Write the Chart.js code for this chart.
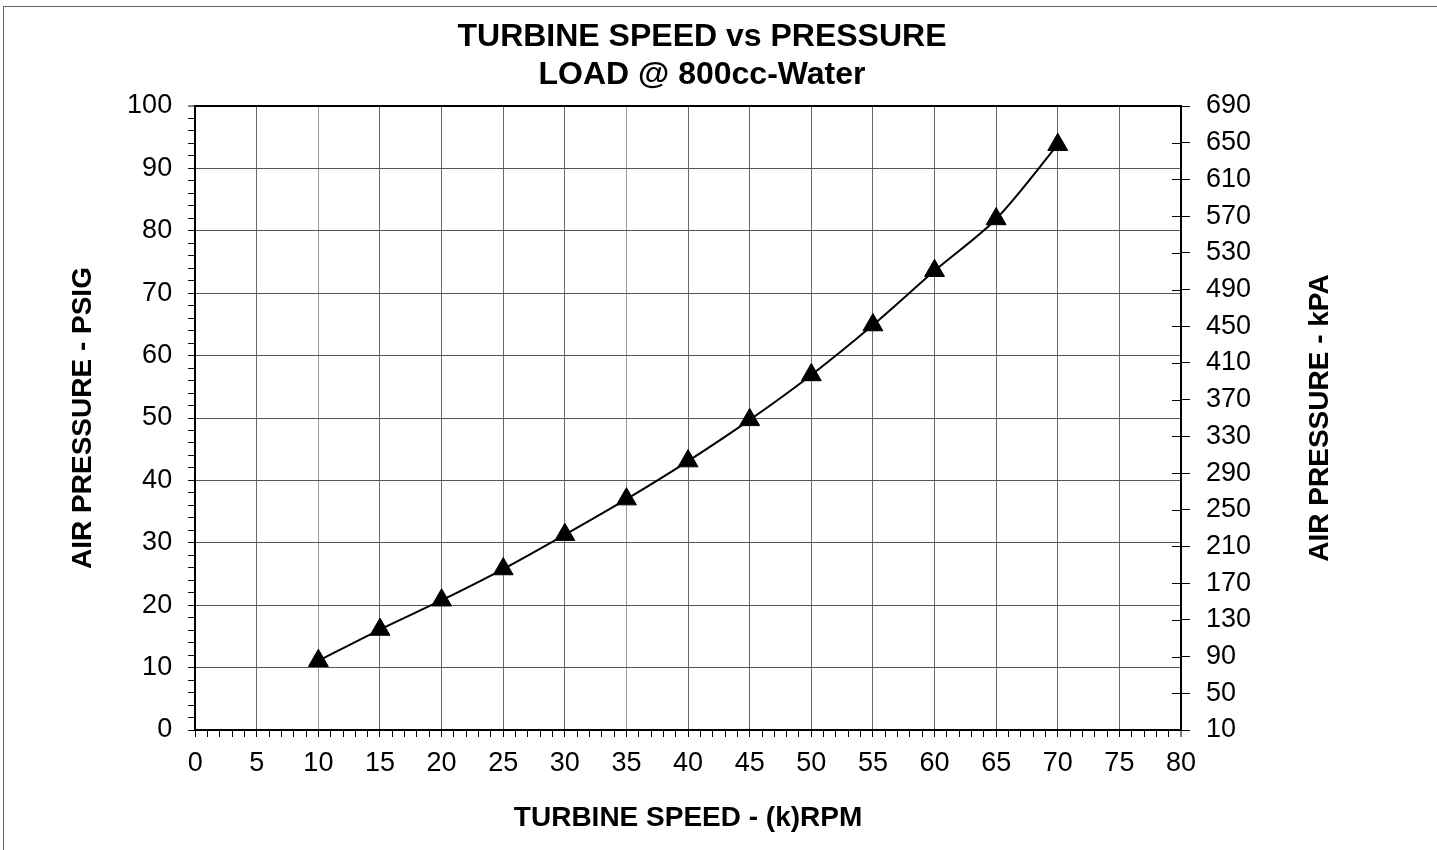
<!DOCTYPE html>
<html>
<head>
<meta charset="utf-8">
<title>Turbine speed vs pressure</title>
<script src="https://cdn.jsdelivr.net/npm/chart.js@4.4.0/dist/chart.umd.min.js"></script>
<style>
    html, body { margin: 0; padding: 0; background: #fff; overflow: hidden; }
    #wrap { position: relative; width: 1437px; height: 850px; }
    #frame { position: absolute; left: 3px; top: 6px; width: 1440px; height: 850px;
             border: 1px solid #666; box-sizing: border-box; }
    canvas { position: absolute; left: 0; top: 0; }
</style>
</head>
<body>
<div id="wrap">
    <div id="frame"></div>
    <canvas id="myChart" width="1437" height="850"></canvas>
</div>
<script>
// turbine speed in thousands of rpm, pressure in psig
const speedK = [10, 15, 20, 25, 30, 35, 40, 45, 50, 55, 60, 65, 70];
const psig   = [11.1, 16.1, 20.8, 25.8, 31.3, 37.0, 43.1, 49.7, 56.9, 64.9, 73.6, 81.9, 93.8];

// axis ranges / tick steps
const xRange   = [0, 80];     // labels every 5, minor ticks every 1
const psiRange = [0, 100];    // labels every 10, minor ticks every 2
const kpaRange = [10, 690];   // labels every 40

const titleLines   = ['TURBINE SPEED vs PRESSURE', 'LOAD @ 800cc-Water'];
const xTitle       = 'TURBINE SPEED - (k)RPM';
const leftTitle    = 'AIR PRESSURE - PSIG';
const rightTitle   = 'AIR PRESSURE - kPA';

const FONT = '"Liberation Sans", Arial, Helvetica, sans-serif';

// right axis title reads bottom-to-top like the left one, and its ticks cross the axis
const rightAxisExtras = {
    id: 'rightAxisExtras',
    afterDraw(chart) {
        const ctx = chart.ctx;
        const area = chart.chartArea;
        const s = chart.scales.yKpa;
        ctx.save();
        ctx.strokeStyle = '#000';
        ctx.lineWidth = 1;
        s.ticks.forEach(t => {
            const y = Math.round(s.getPixelForValue(t.value)) + 0.5;
            ctx.beginPath();
            ctx.moveTo(area.right - 9, y);
            ctx.lineTo(area.right, y);
            ctx.stroke();
        });
        ctx.translate(area.right + 139, (area.top + area.bottom) / 2);
        ctx.rotate(-Math.PI / 2);
        ctx.fillStyle = '#000';
        ctx.font = 'bold 28px ' + FONT;
        ctx.textAlign = 'center';
        ctx.textBaseline = 'middle';
        ctx.fillText(rightTitle, 0, 0);
        ctx.restore();
    }
};

const points = speedK.map((x, i) => ({ x: x, y: psig[i] }));

const ctx = document.getElementById('myChart');
const myChart = new Chart(ctx, {
    type: 'line',
    data: {
        datasets: [{
            label: 'Air pressure',
            data: points,
            xAxisID: 'x',
            yAxisID: 'y',
            borderColor: '#000',
            borderWidth: 2,
            backgroundColor: '#000',
            pointStyle: 'triangle',
            pointRadius: 11.5,
            pointBorderWidth: 1,
            pointBackgroundColor: '#000',
            pointBorderColor: '#000',
            tension: 0.3,
            fill: false,
            clip: false
        }]
    },
    options: {
        responsive: false,
        animation: false,
        layout: {
            padding: { left: 60, right: 93, top: 0, bottom: 10 }
        },
        scales: {
            x: {
                type: 'linear',
                position: 'bottom',
                min: xRange[0],
                max: xRange[1],
                ticks: {
                    stepSize: 1,
                    autoSkip: false,
                    maxRotation: 0,
                    padding: 10,
                    color: '#000',
                    font: { family: FONT, size: 27 },
                    callback: v => (v % 5 === 0 ? v : '')
                },
                grid: {
                    color: c => {
                        const v = c.tick.value;
                        if (v % 5 !== 0) return 'rgba(0,0,0,0)';
                        if (v === 80) return '#000';
                        if (v === 10 || v === 35) return '#999';
                        return '#666';
                    },
                    lineWidth: c => (c.tick.value === 80 ? 2 : 1),
                    tickColor: '#000',
                    tickWidth: 1,
                    tickLength: 7
                },
                border: { display: true, color: '#000', width: 2 },
                title: {
                    display: true,
                    text: xTitle,
                    color: '#000',
                    font: { family: FONT, size: 28, weight: 'bold' },
                    padding: { top: 12, bottom: 5 }
                }
            },
            y: {
                type: 'linear',
                position: 'left',
                min: psiRange[0],
                max: psiRange[1],
                ticks: {
                    stepSize: 2,
                    autoSkip: false,
                    padding: 16,
                    color: '#000',
                    font: { family: FONT, size: 27 },
                    callback: v => (v % 10 === 0 ? v : '')
                },
                grid: {
                    color: c => {
                        const v = c.tick.value;
                        if (v === 100 || v === 0) return '#000';
                        return v % 10 === 0 ? '#555' : 'rgba(0,0,0,0)';
                    },
                    lineWidth: c => (c.tick.value === 100 ? 2 : 1),
                    tickColor: '#000',
                    tickWidth: 1,
                    tickLength: 7
                },
                border: { display: true, color: '#000', width: 2 },
                title: {
                    display: true,
                    text: leftTitle,
                    color: '#000',
                    font: { family: FONT, size: 28, weight: 'bold' },
                    padding: { top: 6, bottom: 11.5 }
                }
            },
            yKpa: {
                type: 'linear',
                position: 'right',
                min: kpaRange[0],
                max: kpaRange[1],
                ticks: {
                    stepSize: 40,
                    padding: 16,
                    color: '#000',
                    font: { family: FONT, size: 27 }
                },
                grid: {
                    drawOnChartArea: false,
                    color: '#000',
                    tickLength: 9
                },
                border: { display: true, color: '#000', width: 2 },
                afterFit: scale => { scale.width = 163; }
            }
        },
        plugins: {
            legend: { display: false },
            tooltip: { enabled: false },
            title: {
                display: true,
                text: titleLines,
                color: '#000',
                font: { family: FONT, size: 32, weight: 'bold' },
                padding: { top: 17.8, bottom: 11.4 }
            }
        }
    },
    plugins: [rightAxisExtras]
});
</script>
</body>
</html>
